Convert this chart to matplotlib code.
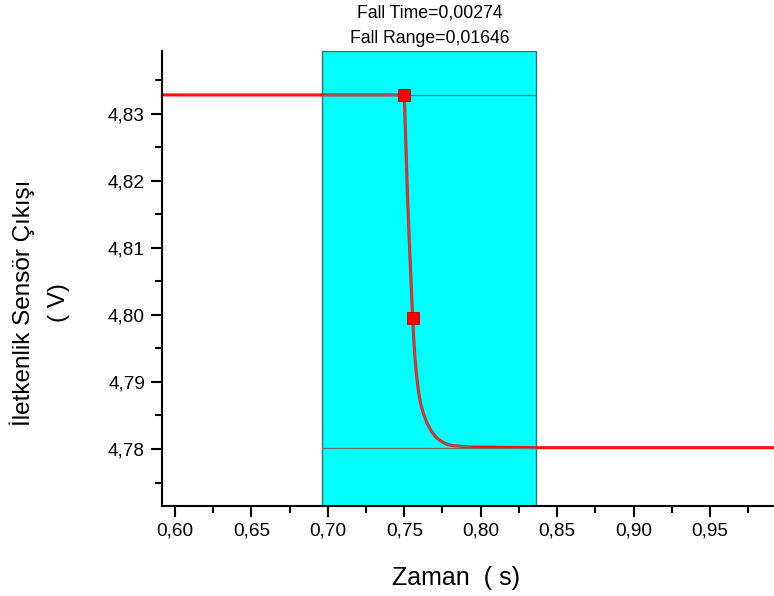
import numpy as np
import matplotlib
matplotlib.use("Agg")
import matplotlib.pyplot as plt
from matplotlib.patches import Rectangle
from matplotlib.ticker import MultipleLocator, FuncFormatter

plt.rcParams['font.family'] = ['Liberation Sans', 'DejaVu Sans']

# sensor output during the fall (time in s, output in V)
time_s = [0.585, 0.650, 0.700, 0.7500, 0.7511, 0.7522, 0.7533, 0.7544, 0.7555,
          0.7562, 0.7570, 0.7580, 0.7592, 0.7607, 0.7625, 0.7650, 0.7679,
          0.7710, 0.7745, 0.7780, 0.7821, 0.7930, 0.8366, 0.900, 1.000]
volts = [4.8328, 4.8328, 4.8328, 4.8328, 4.8250, 4.8172, 4.8110, 4.8052, 4.7995,
         4.7965, 4.7937, 4.7910, 4.7888, 4.7868, 4.7853, 4.7838, 4.7826,
         4.7817, 4.7811, 4.7807, 4.7805, 4.7803, 4.7802, 4.7802, 4.7802]

# fall-time window and levels
window = [0.6964, 0.8364]
high_level = 4.8328
low_level = 4.7802
marker_t = [0.7500, 0.7555]
marker_v = [4.8328, 4.7995]
fall_time = "0,00274"
fall_range = "0,01646"

fig = plt.figure(figsize=(7.74, 5.96), dpi=100)
ax = fig.add_axes([0.2089, 0.151, 0.7911, 0.764])

xlim = (0.5913, 0.9919)
ylim = (4.7715, 4.8394)
ax.set_xlim(*xlim)
ax.set_ylim(*ylim)

ax.add_patch(Rectangle((window[0], ylim[0]), window[1] - window[0], ylim[1] - ylim[0],
                       facecolor='#00ffff', edgecolor='#3d6e6e', lw=1.0, zorder=1))

ax.plot(time_s, volts, color='#ff1010', lw=2.2, zorder=3, solid_joinstyle='round')

# thin gray trace over the curve inside the window
t = np.array(time_s)
v = np.array(volts)
inside = (t >= window[0]) & (t <= window[1])
ax.plot(t[inside], v[inside], color='#6e6e6e', lw=0.9, zorder=4)
ax.hlines([high_level, low_level], window[0], window[1], color='#6e6e6e', lw=0.9, zorder=4)

ax.plot(marker_t, marker_v, ls='none', marker='s', ms=8, color='#ff0000',
        mec='#c00000', mew=0.6, zorder=5)

mid = sum(window) / 2
ax.text(mid, 1.082, "Fall Time=" + fall_time, transform=ax.get_xaxis_transform(),
        ha='center', va='center', fontsize=12.7)
ax.text(mid, 1.026, "Fall Range=" + fall_range, transform=ax.get_xaxis_transform(),
        ha='center', va='center', fontsize=12.7)

for s in ['top', 'right']:
    ax.spines[s].set_visible(False)
for s in ['left', 'bottom']:
    ax.spines[s].set_linewidth(1.5)
    ax.spines[s].set_zorder(6)

comma = FuncFormatter(lambda x, pos: f"{x:.2f}".replace('.', ','))
ax.xaxis.set_major_locator(MultipleLocator(0.05))
ax.xaxis.set_minor_locator(MultipleLocator(0.025))
ax.yaxis.set_major_locator(MultipleLocator(0.01))
ax.yaxis.set_minor_locator(MultipleLocator(0.005))
ax.xaxis.set_major_formatter(comma)
ax.yaxis.set_major_formatter(comma)
ax.tick_params(which='major', direction='out', length=8, width=1.5, labelsize=13.7, pad=4)
ax.tick_params(which='minor', direction='out', length=5, width=1.5)

fig.text(456 / 774, 1 - 578 / 596, "Zaman  ( s)", ha='center', va='center', fontsize=18)
fig.text(22 / 774, 1 - 303 / 596, "İletkenlik Sensör Çıkışı", rotation=90,
         ha='center', va='center', fontsize=17.5)
fig.text(59 / 774, 1 - 303 / 596, "( V)", rotation=90, ha='center', va='center', fontsize=17.5)

fig.savefig("out.png", dpi=100)
